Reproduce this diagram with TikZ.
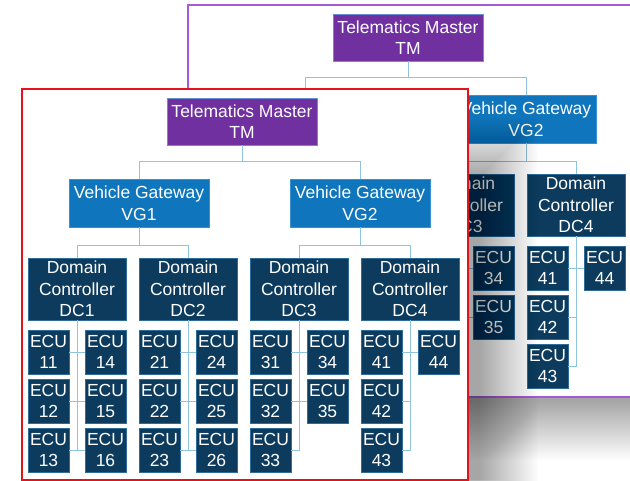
\documentclass[tikz,border=0pt]{standalone}
\usepackage{fontspec}
\setmainfont{Liberation Sans}
\definecolor{tmfill}{HTML}{7030A0}
\definecolor{tmline}{HTML}{6A8ED6}
\definecolor{vgfill}{HTML}{0F75BC}
\definecolor{vgline}{HTML}{3A8FD2}
\definecolor{dcfill}{HTML}{0D3B5E}
\definecolor{dcline}{HTML}{2E6C9A}
\definecolor{connc}{HTML}{8CC4E2}
\definecolor{redframe}{HTML}{E4121B}
\definecolor{purpleframe}{HTML}{A65AD6}
\tikzset{
  box/.style={rectangle, inner sep=0pt, align=center, text=white,
    font=\fontsize{17.5}{21.5}\selectfont, line width=0.6pt},
  tmbox/.style={box, fill=tmfill, draw=tmline, minimum width=150pt, minimum height=47pt},
  vgbox/.style={box, fill=vgfill, draw=vgline, minimum width=140pt, minimum height=48pt},
  dcbox/.style={box, fill=dcfill, draw=dcline, minimum width=98pt, minimum height=62pt},
  ecubox/.style={box, fill=dcfill, draw=dcline, minimum width=41pt, minimum height=44pt},
  conn/.style={draw=connc, line width=1pt},
  frameline/.style={line width=2.4pt, fill=white},
}
% ECU boxes below a domain controller: dc/centre-x/number/side/row/anchor
\newcommand\ecus[2]{%
  \foreach \d/\cx/\n/\s/\r/\a in {#2}{
    \node[ecubox] (#1e\n) at ({\cx+\s*28.5},{303+49*\r}) {ECU\\\n};
    \draw[conn] (#1dc\d.south) |- (#1e\n.\a);
  }%
}
\begin{document}
\begin{tikzpicture}[x=1pt, y=-1pt]
  \useasboundingbox (0,0) rectangle (630,480);
  \clip (0,0) rectangle (630,480);
  \fill[white] (0,0) rectangle (630,480);
  % shadow of the back sheet
  \foreach \i in {1,...,30}
    \fill[black, opacity=0.0114] ({260-2*\i},{70-2*\i}) rectangle ({700+2*\i},{400+2*\i});
  % back sheet (only its visible part)
  \draw[frameline, draw=purpleframe] (188,5) rectangle (660,397);
  \begin{scope}[shift={(166,-84)}]
    \node[tmbox] (btm) at (242,121.5) {Telematics Master\\TM};
    \node[vgbox] (bvgb) at (360,203) {Vehicle Gateway\\VG2};
    \coordinate (bvga) at (139,179);
    \node[dcbox] (bdc3) at (299,289) {Domain\\Controller\\DC3};
    \node[dcbox] (bdc4) at (410,289) {Domain\\Controller\\DC4};
    \coordinate (bja) at (242,161);
    \coordinate (bjc) at (360,245);
    \draw[conn] (btm.south) -- (bja) -| (bvga);
    \draw[conn] (bja) -| (bvgb.north);
    \draw[conn] (bvgb.south) -- (bjc) -| (bdc3.north);
    \draw[conn] (bjc) -| (bdc4.north);
    \ecus{b}{3/299/34/1/1/west, 3/299/35/1/2/west,
      4/410/41/-1/1/east, 4/410/42/-1/2/east, 4/410/43/-1/3/east,
      4/410/44/1/1/west}
  \end{scope}
  % shadow of the front sheet
  \foreach \i in {1,...,30}
    \fill[black, opacity=0.0137] ({100-2*\i},{178-2*\i}) rectangle ({478+2*\i},{540+2*\i});
  % front sheet
  \draw[frameline, draw=redframe] (22,89) rectangle (468,480.5);
  \node[tmbox] (ftm) at (242,121.5) {Telematics Master\\TM};
  \node[vgbox] (fvga) at (139,203) {Vehicle Gateway\\VG1};
  \node[vgbox] (fvgb) at (360,203) {Vehicle Gateway\\VG2};
  \node[dcbox] (fdc1) at (77,289) {Domain\\Controller\\DC1};
  \node[dcbox] (fdc2) at (188,289) {Domain\\Controller\\DC2};
  \node[dcbox] (fdc3) at (299,289) {Domain\\Controller\\DC3};
  \node[dcbox] (fdc4) at (410,289) {Domain\\Controller\\DC4};
  \coordinate (fja) at (242,161);
  \coordinate (fjb) at (139,245);
  \coordinate (fjc) at (360,245);
  \draw[conn] (ftm.south) -- (fja) -| (fvga.north);
  \draw[conn] (fja) -| (fvgb.north);
  \draw[conn] (fvga.south) -- (fjb) -| (fdc1.north);
  \draw[conn] (fjb) -| (fdc2.north);
  \draw[conn] (fvgb.south) -- (fjc) -| (fdc3.north);
  \draw[conn] (fjc) -| (fdc4.north);
  \ecus{f}{
    1/77/11/-1/1/east, 1/77/12/-1/2/east, 1/77/13/-1/3/east,
    1/77/14/1/1/west, 1/77/15/1/2/west, 1/77/16/1/3/west,
    2/188/21/-1/1/east, 2/188/22/-1/2/east, 2/188/23/-1/3/east,
    2/188/24/1/1/west, 2/188/25/1/2/west, 2/188/26/1/3/west,
    3/299/31/-1/1/east, 3/299/32/-1/2/east, 3/299/33/-1/3/east,
    3/299/34/1/1/west, 3/299/35/1/2/west,
    4/410/41/-1/1/east, 4/410/42/-1/2/east, 4/410/43/-1/3/east,
    4/410/44/1/1/west}
\end{tikzpicture}
\end{document}
